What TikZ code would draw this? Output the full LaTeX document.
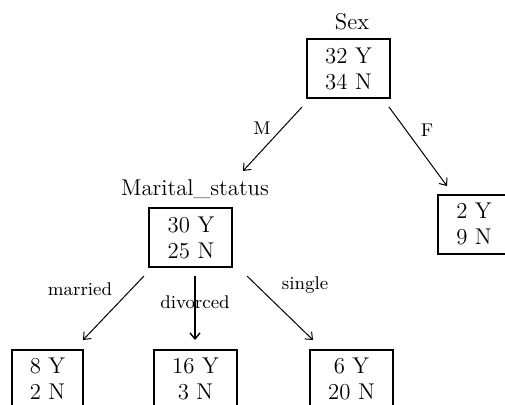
\documentclass[tikz,border=0pt]{standalone}
\usetikzlibrary{arrows.meta}
\begin{document}
\begin{tikzpicture}[x=0.5pt,y=-0.5pt,
  box/.style={draw,line width=1pt,rectangle,align=center,inner sep=0pt,
    font=\fontsize{11.4}{13}\selectfont,minimum height=29.5pt},
  wbox/.style={box,minimum width=41.5pt},
  nbox/.style={box,minimum width=35.5pt},
  ttl/.style={font=\fontsize{11.4}{13}\selectfont,inner sep=0pt},
  lbl/.style={font=\fontsize{9.2}{11}\selectfont,inner sep=0pt},
  arr/.style={line width=0.5pt,-{Straight Barb[length=3pt,width=5pt]}}]
\useasboundingbox (0,0) rectangle (505,404);
\clip (0,0) rectangle (505,404);
% nodes
\node[ttl] (sexl) at (352,22) {Sex};
\node[wbox] (root) at (348.5,68.5) {32 Y\\34 N};
\node[ttl] (msl) at (195,189) {Marital\_status};
\node[wbox] (ms) at (191,237.5) {30 Y\\25 N};
\node[nbox] (f) at (474,224) {2 Y\\9 N};
\node[nbox] (mar) at (47.5,379) {8 Y\\2 N};
\node[wbox] (div) at (195.5,379) {16 Y\\3 N};
\node[wbox] (sin) at (351.5,379) {6 Y\\20 N};
% connector end points
\coordinate (m1) at (302,107);
\coordinate (m2) at (243,171);
\coordinate (f1) at (389,107);
\coordinate (f2) at (447,186);
\coordinate (a1) at (144,276);
\coordinate (a2) at (83,340);
\coordinate (d1) at (195,276);
\coordinate (d2) at (195,340);
\coordinate (s1) at (247,276);
\coordinate (s2) at (313,340);
\draw[arr] (m1) -- (m2);
\draw[arr] (f1) -- (f2);
\draw[arr] (a1) -- (a2);
\draw[arr,line width=0.7pt] (d1) -- (d2);
\draw[arr] (s1) -- (s2);
% labels
\node[lbl] (ml) at (262,128) {M};
\node[lbl] (fl) at (427,130) {F};
\node[lbl] (marl) at (80,289) {married};
\node[lbl] (divl) at (195,302) {divorced};
\node[lbl] (sinl) at (305,285) {single};
\end{tikzpicture}
\end{document}
